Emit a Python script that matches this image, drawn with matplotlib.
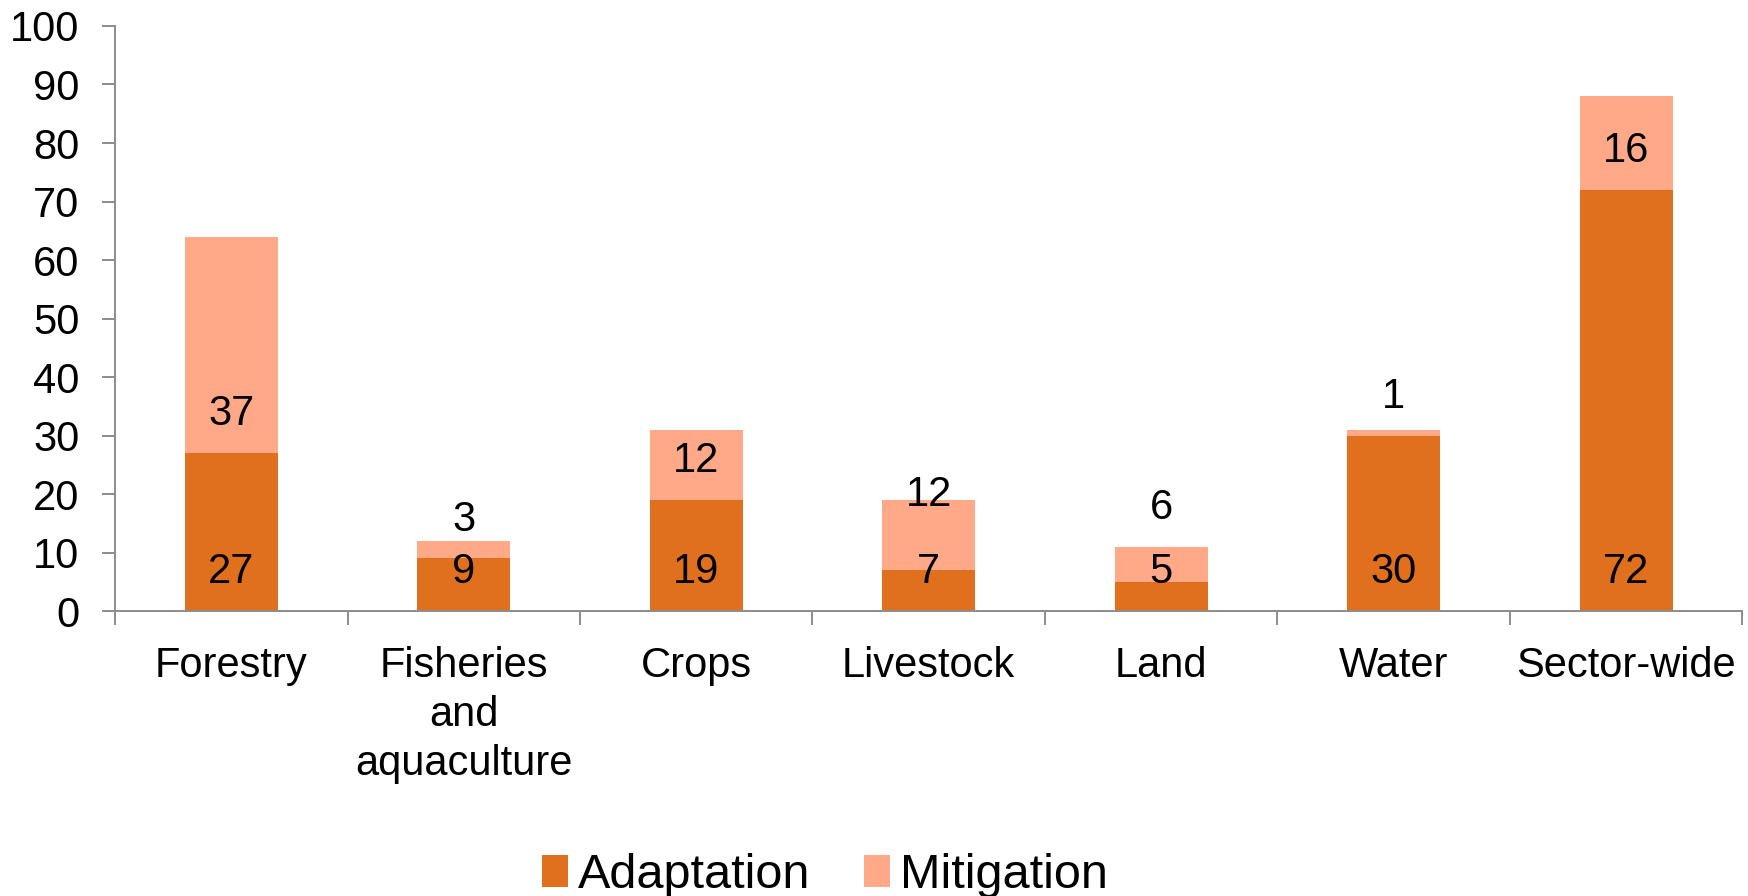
import numpy as np
import matplotlib
matplotlib.use('Agg')
import matplotlib.pyplot as plt

plt.rcParams['font.family'] = ['Liberation Sans', 'DejaVu Sans']

# data
categories = ['Forestry', 'Fisheries\nand\naquaculture', 'Crops', 'Livestock', 'Land', 'Water', 'Sector-wide']
adaptation = [27, 9, 19, 7, 5, 30, 72]
mitigation = [37, 3, 12, 12, 6, 1, 16]

col_adapt = '#E0701E'
col_mitig = '#FFA988'
grey = '#8C8C8C'

# extra lift (points) for mitigation labels that would collide with the one below
label_lift = {3: 26, 4: 25}

fig = plt.figure(figsize=(17.48, 8.96), dpi=100)
ax = fig.add_axes([0.0658, 0.318, 0.931, 0.653])

x = np.arange(len(categories))
ax.bar(x, adaptation, width=0.4, color=col_adapt, label='Adaptation')
ax.bar(x, mitigation, width=0.4, bottom=adaptation, color=col_mitig, label='Mitigation')

# labels sit near the base of each segment
for i, (xi, a, m) in enumerate(zip(x, adaptation, mitigation)):
    ax.annotate(str(a), (xi, 0), xytext=(0, 28), textcoords='offset points',
                ha='center', va='center', fontsize=30)
    ax.annotate(str(m), (xi, a), xytext=(0, 28 + label_lift.get(i, 0)), textcoords='offset points',
                ha='center', va='center', fontsize=30)

ax.set_xlim(-0.5, len(categories) - 0.5)
ax.set_ylim(0, 100)
ax.set_yticks(np.arange(0, 101, 10))

ax.set_xticks(x)
ax.set_xticklabels(categories, fontsize=30, linespacing=1.3)
ax.set_xticks(np.arange(-0.5, len(categories)), minor=True)
ax.tick_params(axis='x', which='major', length=0, pad=25)
ax.tick_params(axis='x', which='minor', length=10, width=1.4, color=grey, direction='out')
ax.tick_params(axis='y', length=9.5, width=1.4, color=grey, pad=16, labelsize=30)

for s in ['top', 'right']:
    ax.spines[s].set_visible(False)
for s in ['left', 'bottom']:
    ax.spines[s].set_color(grey)
    ax.spines[s].set_linewidth(1.4)

fig.legend(loc='center', bbox_to_anchor=(0.472, 0.023), ncol=2, frameon=False,
           fontsize=35, handlelength=0.54, handleheight=0.64, handletextpad=0.2,
           columnspacing=1.1, borderpad=0)

fig.savefig('out.png', dpi=100)
